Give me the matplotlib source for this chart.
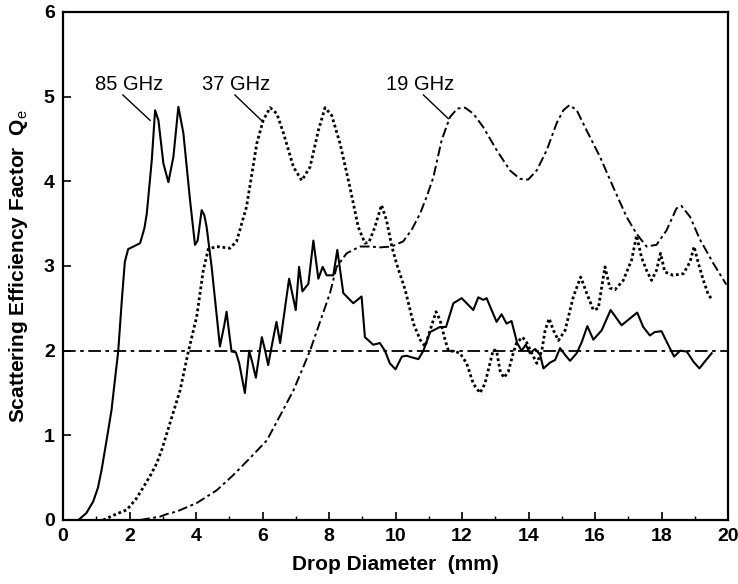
import matplotlib
matplotlib.use("Agg")
import matplotlib.pyplot as plt
from matplotlib.ticker import MultipleLocator

plt.rcParams['font.family'] = ['Liberation Sans', 'DejaVu Sans']
plt.rcParams['mathtext.fontset'] = 'custom'
plt.rcParams['mathtext.rm'] = 'Liberation Sans'
plt.rcParams['mathtext.bf'] = 'Liberation Sans:bold'

# 85 GHz (solid)
x85 = [0.46, 0.7, 0.91, 1.05, 1.16, 1.31, 1.46, 1.56, 1.66, 1.77, 1.86, 1.96, 2.12, 2.32, 2.45,
       2.52, 2.67, 2.77, 2.87, 3.02, 3.17, 3.32, 3.47, 3.62, 3.82, 3.97, 4.05, 4.17, 4.25, 4.32,
       4.47, 4.6, 4.72, 4.85, 4.92, 5.0, 5.07, 5.2, 5.3, 5.47, 5.6, 5.7, 5.8, 5.98, 6.08, 6.17,
       6.3, 6.42, 6.53, 6.8, 7.0, 7.1, 7.2, 7.38, 7.53, 7.68, 7.81, 7.93, 8.13, 8.25, 8.43,
       8.73, 8.98, 9.08, 9.33, 9.53, 9.68, 9.83, 10.0, 10.19, 10.33, 10.5, 10.69, 10.84, 11.04,
       11.34, 11.52, 11.74, 11.99, 12.19, 12.34, 12.49, 12.64, 12.74, 12.89, 13.04, 13.19, 13.34,
       13.49, 13.66, 13.79, 13.92, 14.04, 14.2, 14.35, 14.45, 14.65, 14.8, 14.95, 15.1, 15.25,
       15.45, 15.6, 15.77, 15.95, 16.2, 16.47, 16.8, 17.05, 17.27, 17.45, 17.65, 17.8, 18.0,
       18.2, 18.38, 18.56, 18.76, 18.96, 19.14, 19.3, 19.51]
y85 = [0.0, 0.08, 0.22, 0.38, 0.59, 0.94, 1.3, 1.65, 1.99, 2.6, 3.05, 3.2, 3.23, 3.27, 3.45,
       3.62, 4.25, 4.84, 4.72, 4.21, 3.99, 4.29, 4.88, 4.57, 3.78, 3.25, 3.3, 3.66, 3.6, 3.46,
       2.99, 2.5, 2.05, 2.3, 2.46, 2.2, 1.99, 1.98, 1.85, 1.5, 2.0, 1.85, 1.68, 2.16, 2.0, 1.83,
       2.1, 2.34, 2.09, 2.85, 2.48, 2.99, 2.7, 2.79, 3.3, 2.85, 2.99, 2.89, 2.89, 3.19, 2.68,
       2.56, 2.64, 2.16, 2.07, 2.09, 2.0, 1.85, 1.78, 1.93, 1.94, 1.92, 1.9, 2.0, 2.22,
       2.28, 2.28, 2.56, 2.62, 2.54, 2.48, 2.63, 2.6, 2.62, 2.48, 2.34, 2.43, 2.32,
       2.35, 2.09, 2.0, 2.07, 1.97, 2.02, 1.95, 1.79, 1.86, 1.89, 2.03, 1.95, 1.88,
       1.97, 2.1, 2.29, 2.13, 2.24, 2.48, 2.3, 2.38, 2.45, 2.28, 2.18, 2.22, 2.23,
       2.07, 1.93, 2.0, 1.99, 1.87, 1.79, 1.87, 1.97]

# 37 GHz (dotted)
x37 = [1.21, 1.6, 1.92, 2.2, 2.42, 2.62, 2.82, 2.98, 3.12, 3.3, 3.52, 3.77, 4.02, 4.22, 4.37,
       4.62, 5.02, 5.22, 5.52, 5.83, 6.02, 6.23, 6.43, 6.63, 6.93, 7.18, 7.43, 7.68, 7.88, 8.08,
       8.33, 8.63, 8.88, 9.08, 9.2, 9.38, 9.58, 9.73, 9.89, 10.03, 10.29, 10.54, 10.74, 10.89,
       11.04, 11.22, 11.34, 11.49, 11.59, 11.79, 11.94, 12.14, 12.34, 12.54, 12.69, 12.84,
       12.94, 13.04, 13.14, 13.26, 13.39, 13.54, 13.64, 13.82, 13.94, 14.1, 14.25, 14.4, 14.5,
       14.62, 14.75, 14.9, 15.1, 15.35, 15.57, 15.75, 15.95, 16.1, 16.3, 16.45, 16.6, 16.85,
       17.1, 17.25, 17.4, 17.55, 17.7, 17.85, 17.97, 18.1, 18.35, 18.66, 18.86, 18.98, 19.11,
       19.26, 19.41, 19.51]
y37 = [0.0, 0.07, 0.12, 0.25, 0.39, 0.52, 0.67, 0.84, 1.02, 1.25, 1.53, 1.99, 2.4, 2.95, 3.2,
       3.23, 3.21, 3.29, 3.7, 4.45, 4.72, 4.87, 4.8, 4.57, 4.17, 4.01, 4.17, 4.6, 4.87, 4.78,
       4.45, 3.93, 3.46, 3.27, 3.28, 3.46, 3.72, 3.54, 3.23, 3.03, 2.72, 2.32, 2.13, 2.05,
       2.24, 2.46, 2.36, 2.13, 2.0, 1.99, 1.97, 1.85, 1.61, 1.5, 1.61, 1.85,
       2.01, 2.0, 1.77, 1.68, 1.75, 1.97, 2.09, 2.16, 2.1, 1.97, 1.85, 2.0, 2.24,
       2.38, 2.24, 2.12, 2.24, 2.64, 2.87, 2.68, 2.48, 2.5, 2.99, 2.74, 2.72, 2.83,
       3.07, 3.36, 3.1, 2.95, 2.83, 2.95, 3.15, 2.93, 2.89, 2.91, 3.05, 3.23, 3.03,
       2.83, 2.66, 2.61]

# 19 GHz (dash-dot)
x19 = [2.32, 2.92, 3.12, 3.42, 4.02, 4.62, 5.12, 5.62, 6.13, 6.62, 6.93, 7.23, 7.43, 7.73,
       8.03, 8.23, 8.53, 8.93, 9.23, 9.53, 9.88, 10.23, 10.49, 10.74, 10.94, 11.14, 11.39,
       11.64, 11.86, 12.09, 12.34, 12.64, 13.04, 13.44, 13.74, 13.99, 14.25, 14.55, 14.85,
       15.05, 15.23, 15.45, 15.75, 16.15, 16.55, 16.95, 17.25, 17.55, 17.85, 18.15, 18.45,
       18.6, 18.86, 19.16, 19.56, 19.95]
y19 = [0.0, 0.04, 0.07, 0.1, 0.2, 0.35, 0.53, 0.73, 0.94, 1.3, 1.53, 1.81, 2.0, 2.34,
       2.68, 2.99, 3.15, 3.23, 3.23, 3.22, 3.23, 3.29, 3.43, 3.62, 3.82, 4.05, 4.49,
       4.76, 4.86, 4.87, 4.8, 4.64, 4.37, 4.13, 4.03, 4.02, 4.13, 4.37, 4.69,
       4.84, 4.9, 4.84, 4.6, 4.29, 3.93, 3.58, 3.38, 3.23, 3.25, 3.42, 3.68,
       3.71, 3.58, 3.31, 3.03, 2.78]

ref_level = 2.0
labels = ["85 GHz", "37 GHz", "19 GHz"]
label_xy = [(2.0, 5.08), (5.22, 5.08), (10.74, 5.08)]
leader_from = [(1.8, 5.02), (5.17, 5.02), (10.84, 5.02)]
leader_to = [(2.62, 4.72), (6.02, 4.70), (11.59, 4.74)]

fig = plt.figure(figsize=(7.38, 5.84), dpi=100)
ax = fig.add_axes([63/738, 1 - 520/584, (728 - 63)/738, (520 - 12)/584])

ax.plot(x85, y85, color='black', lw=1.5, ls='-')
ax.plot(x37, y37, color='black', lw=2.0, ls=(0, (1.0, 1.0)))
ax.plot(x19, y19, color='black', lw=1.4, ls=(0, (5, 1.8, 1.5, 1.8)))
ax.axhline(ref_level, color='black', lw=1.3, ls=(0, (7, 2.5, 2, 2.5)))

for t, (tx, ty), (fx, fy), (lx, ly) in zip(labels, label_xy, leader_from, leader_to):
    ax.text(tx, ty, t, ha='center', va='baseline', fontsize=14.5)
    ax.plot([fx, lx], [fy, ly], color='black', lw=1.0)

ax.set_xlim(0, 20)
ax.set_ylim(0, 6)
ax.xaxis.set_major_locator(MultipleLocator(2))
ax.xaxis.set_minor_locator(MultipleLocator(1))
ax.yaxis.set_major_locator(MultipleLocator(1))
ax.tick_params(axis='both', which='major', direction='in', length=6, width=1.2,
               labelsize=14, pad=6)
ax.tick_params(axis='both', which='minor', direction='in', length=3, width=1.0)
ax.tick_params(axis='y', which='minor', left=False)
for lab in ax.get_xticklabels() + ax.get_yticklabels():
    lab.set_fontweight('bold')
for s in ax.spines.values():
    s.set_linewidth(1.6)

ax.set_xlabel("Drop Diameter  (mm)", fontsize=15, fontweight='bold', labelpad=7)
ax.set_ylabel(r"Scattering Efficiency Factor  Q$_{\mathrm{e}}$", fontsize=15,
              fontweight='bold', labelpad=10)

fig.savefig("out.png", dpi=100)
